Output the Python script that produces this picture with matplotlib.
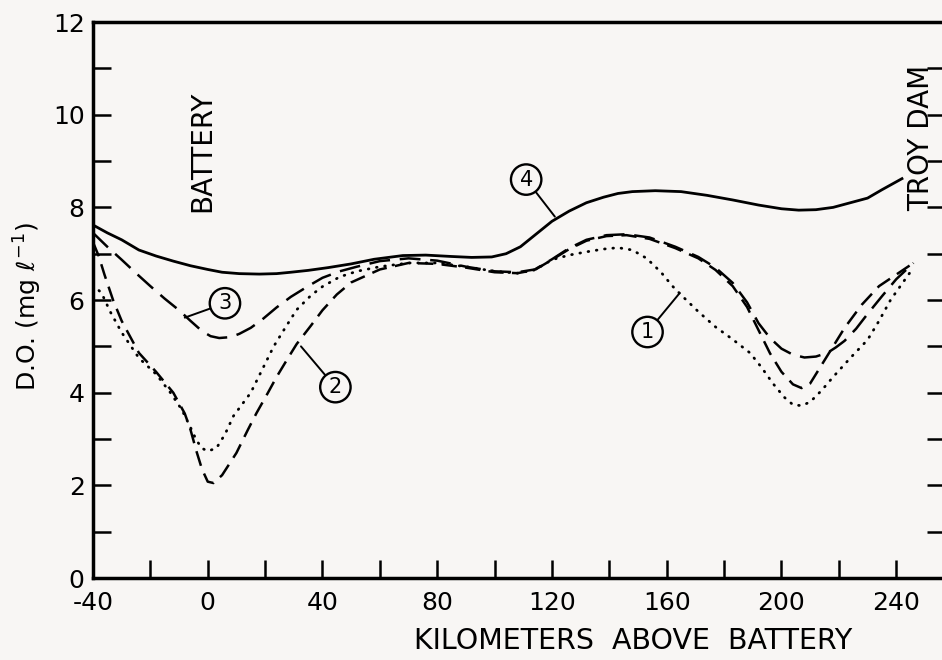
import numpy as np
import matplotlib
matplotlib.use("Agg")
import matplotlib.pyplot as plt

plt.rcParams['font.family'] = ['DejaVu Sans']
plt.rcParams['lines.scale_dashes'] = False

# curve 1 (dotted)
x1 = [-40, -37, -34, -30, -24, -18, -13, -9, -6, -4, -2, 0, 3, 6, 9, 12, 15, 19, 23, 27, 31, 36, 40,
      46, 52, 60, 70, 80, 90, 100, 108, 114, 120, 126, 132, 138, 143, 148, 153, 158, 162, 166, 171,
      177, 183, 189, 193, 197, 201, 204, 207, 210, 214, 218, 224, 230, 234, 238, 242, 246]
y1 = [6.33, 6.15, 5.75, 5.3, 4.75, 4.4, 4.0, 3.63, 3.25, 2.98, 2.8, 2.74, 2.8, 3.1, 3.5, 3.75, 4.0,
      4.5, 5.0, 5.4, 5.79, 6.1, 6.29, 6.5, 6.62, 6.72, 6.8, 6.8, 6.72, 6.62, 6.58, 6.65, 6.87, 6.97,
      7.04, 7.1, 7.13, 7.08, 6.9, 6.6, 6.3, 6.05, 5.75, 5.42, 5.15, 4.86, 4.55, 4.2, 3.9, 3.74, 3.72,
      3.8, 4.05, 4.34, 4.75, 5.14, 5.55, 6.0, 6.35, 6.7]

# curve 2 (short dashes)
x2 = [-40, -38, -36, -33, -30, -24, -18, -12, -8, -6, -4, -2, 0, 2, 5, 10, 14, 17, 21, 24, 28, 31,
      36, 40, 45, 50, 60, 70, 80, 90, 100, 108, 114, 120, 126, 132, 139, 146, 154, 163, 171, 177,
      183, 188, 192, 196, 200, 204, 207, 210, 213, 216, 219, 222, 228, 234, 240, 246]
y2 = [7.25, 6.95, 6.55, 6.0, 5.55, 4.86, 4.45, 4.0, 3.55, 3.2, 2.75, 2.35, 2.08, 2.05, 2.22, 2.7,
      3.2, 3.56, 4.0, 4.34, 4.75, 5.05, 5.45, 5.78, 6.12, 6.38, 6.66, 6.8, 6.78, 6.7, 6.6, 6.58, 6.65,
      6.87, 7.1, 7.28, 7.38, 7.4, 7.32, 7.12, 6.9, 6.65, 6.3, 5.85, 5.35, 4.85, 4.45, 4.18, 4.1,
      4.2, 4.5, 4.8, 5.1, 5.4, 5.9, 6.3, 6.55, 6.8]

# curve 3 (long dashes)
x3 = [-40, -35, -30, -25, -20, -15, -10, -6, -2, 1, 4, 8, 11, 15, 19, 24, 29, 35, 40, 46, 52, 60,
      70, 80, 90, 100, 108, 114, 120, 126, 132, 139, 146, 154, 163, 171, 177, 183, 188, 192, 196,
      200, 204, 208, 212, 216, 219, 222, 226, 230, 235, 240, 246]
y3 = [7.45, 7.15, 6.87, 6.58, 6.3, 6.03, 5.78, 5.55, 5.33, 5.22, 5.18, 5.2, 5.27, 5.4, 5.58, 5.84,
      6.07, 6.3, 6.48, 6.62, 6.72, 6.84, 6.9, 6.85, 6.72, 6.62, 6.6, 6.66, 6.88, 7.12, 7.3, 7.4, 7.42,
      7.35, 7.15, 6.93, 6.7, 6.37, 5.95, 5.5, 5.18, 4.95, 4.82, 4.76, 4.78, 4.86, 4.98, 5.12, 5.38,
      5.7, 6.08, 6.45, 6.8]

# curve 4 (solid)
x4 = [-40, -35, -30, -24, -18, -12, -6, 0, 5, 11, 18, 24, 29, 35, 42, 50, 58, 68, 76, 85, 92, 99,
      104, 109, 114, 120, 126, 132, 138, 143, 148, 156, 165, 174, 183, 192, 200, 206, 212, 218, 224,
      230, 235, 242]
y4 = [7.62, 7.45, 7.3, 7.08, 6.95, 6.84, 6.74, 6.66, 6.6, 6.57, 6.56, 6.57, 6.6, 6.64, 6.7, 6.78,
      6.88, 6.96, 6.97, 6.94, 6.92, 6.93, 7.0, 7.15, 7.4, 7.7, 7.92, 8.1, 8.22, 8.3, 8.34, 8.36, 8.34,
      8.26, 8.16, 8.05, 7.97, 7.94, 7.95, 8.0, 8.1, 8.2, 8.38, 8.62]

# circled labels: text position, point on curve
labels = ["1", "2", "3", "4"]
label_pos = [(153.3, 5.31), (44.5, 4.12), (6.0, 5.93), (111, 8.6)]
label_tip = [(164.5, 6.15), (32.5, 5.0), (-8, 5.62), (121, 7.8)]

bg = "#f8f6f4"
fig = plt.figure(figsize=(9.42, 6.6), dpi=100, facecolor=bg)
ax = fig.add_axes([0.0987, 0.1242, 0.9045, 0.8424], facecolor=bg)

ax.plot(x1, y1, color="black", lw=2.0, linestyle=(0, (0.5, 5.5)), dash_capstyle="round")
ax.plot(x2, y2, color="black", lw=1.8, dashes=(11, 6))
ax.plot(x3, y3, color="black", lw=1.8, dashes=(15, 7))
ax.plot(x4, y4, color="black", lw=2.0)

for lab, p, t in zip(labels, label_pos, label_tip):
    ax.annotate(lab, xy=t, xytext=p, ha="center", va="center", fontsize=15,
                bbox=dict(boxstyle="circle,pad=0.25", fc=bg, ec="black", lw=1.7),
                arrowprops=dict(arrowstyle="-", color="black", lw=1.4, shrinkA=0, shrinkB=0))

ax.text(-2, 9.2, "BATTERY", rotation=90, ha="center", va="center", fontsize=20)
ax.text(248.8, 9.5, "TROY DAM", rotation=90, ha="center", va="center", fontsize=20)

ax.set_xlim(-40, 257)
ax.set_ylim(0, 12)
ax.set_xticks(np.arange(-40, 241, 40))
ax.set_xticklabels(["-40", "0", "40", "80", "120", "160", "200", "240"])
ax.set_xticks(np.arange(-20, 241, 20), minor=True)
ax.set_yticks(np.arange(0, 13, 2))
ax.set_yticks(np.arange(0, 13, 1), minor=True)

ax.tick_params(which="both", direction="in", width=1.8, labelsize=18)
ax.tick_params(axis="x", which="both", length=13, pad=9)
ax.tick_params(axis="y", which="both", right=True, length=13, pad=6)
for s in ["left", "bottom", "top"]:
    ax.spines[s].set_linewidth(2.5)
ax.spines["right"].set_visible(False)

ax.text(148.4, -1.35, "KILOMETERS  ABOVE  BATTERY", ha="center", va="center", fontsize=20.5)
fig.text(0.03, 0.535, r"D.O. (mg $\ell^{-1}$)", rotation=90, ha="center", va="center", fontsize=18)

fig.savefig("out.png", dpi=100, facecolor=bg)
